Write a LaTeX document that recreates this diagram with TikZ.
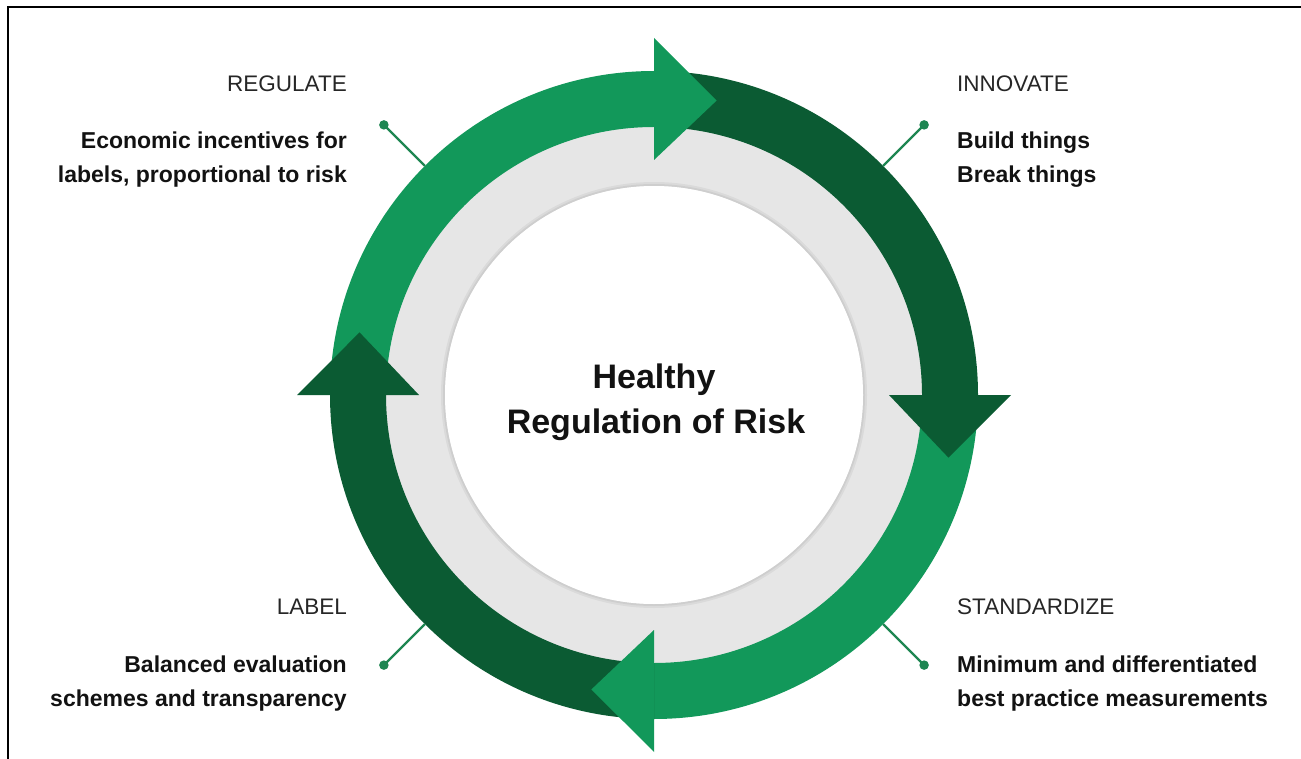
\documentclass[tikz,border=0pt]{standalone}
\usepackage{fontspec}
\setmainfont{Liberation Sans}
\definecolor{lightg}{HTML}{12985A}
\definecolor{darkg}{HTML}{0B5B33}
\definecolor{ringgrey}{HTML}{E6E6E6}
\definecolor{pointerg}{HTML}{1E8652}
\begin{document}
\begin{tikzpicture}[x=1pt,y=1pt,
  heading/.style={font=\fontsize{22.5}{26}\selectfont, text=black!85, inner sep=0},
  bodytext/.style={font=\fontsize{23}{28}\selectfont\bfseries, text=black!93, inner sep=0},
  titletext/.style={font=\fontsize{34}{40}\selectfont\bfseries, text=black!93, inner sep=0},
  dot/.style={circle, fill=pointerg, minimum size=9.5, inner sep=0},
  pointer/.style={draw=pointerg, line width=2.3},
  frame/.style={draw=black, line width=2}]
\useasboundingbox (0,0) rectangle (1301,-759);
% frame (left and top edges)
\coordinate (fTR) at (1301,-7);
\coordinate (fTL) at (8,-7);
\coordinate (fBL) at (8,-759);
\draw[frame] (fTR) -- (fTL) -- (fBL);
\begin{scope}[shift={(654,-395)}]
  % grey ring with a soft shadow at its inner edge
  \fill[ringgrey] (0,0) circle (282);
  \draw[black, opacity=0.05, line width=4] (0,0) circle (211);
  \draw[black, opacity=0.05, line width=2] (0,0) circle (210);
  \fill[white] (0,0) circle (209);
  % arrow bodies
  \fill[lightg] (180:324) arc[start angle=180,end angle=90,radius=324] -- (90:268) arc[start angle=90,end angle=180,radius=268] -- cycle;
  \fill[darkg] (90:324) arc[start angle=90,end angle=0,radius=324] -- (0:268) arc[start angle=0,end angle=90,radius=268] -- cycle;
  \fill[lightg] (0:324) arc[start angle=0,end angle=-90,radius=324] -- (-90:268) arc[start angle=-90,end angle=0,radius=268] -- cycle;
  \fill[darkg] (-90:324) arc[start angle=-90,end angle=-180,radius=324] -- (-180:268) arc[start angle=-180,end angle=-90,radius=268] -- cycle;
  % arrow heads
  \fill[lightg] (90:235) -- (90:357) -- (78:301) -- cycle;
  \fill[darkg] (0:235) -- (0:357) -- (-12:301) -- cycle;
  \fill[lightg] (-90:235) -- (-90:357) -- (-102:301) -- cycle;
  \fill[darkg] (180:235) -- (180:357) -- (168:301) -- cycle;
  % pointers
  \coordinate (pRegA) at (135:324);
  \node[dot] (pRegB) at (135:382) {};
  \draw[pointer] (pRegA) -- (pRegB.center);
  \coordinate (pInnA) at (45:324);
  \node[dot] (pInnB) at (45:382) {};
  \draw[pointer] (pInnA) -- (pInnB.center);
  \coordinate (pStdA) at (-45:324);
  \node[dot] (pStdB) at (-45:382) {};
  \draw[pointer] (pStdA) -- (pStdB.center);
  \coordinate (pLabA) at (-135:324);
  \node[dot] (pLabB) at (-135:382) {};
  \draw[pointer] (pLabA) -- (pLabB.center);
\end{scope}
% centre title
\node[titletext, anchor=base] (t1) at (654,-388) {Healthy};
\node[titletext, anchor=base] (t2) at (656,-433) {Regulation of Risk};
% REGULATE
\node[heading, anchor=base east] (regH) at (347,-92) {REGULATE};
\node[bodytext, anchor=base east] (reg1) at (347,-149) {Economic incentives for};
\node[bodytext, anchor=base east] (reg2) at (347,-183) {labels, proportional to risk};
% INNOVATE
\node[heading, anchor=base west] (innH) at (957,-92) {INNOVATE};
\node[bodytext, anchor=base west] (inn1) at (957,-149) {Build things};
\node[bodytext, anchor=base west] (inn2) at (957,-183) {Break things};
% LABEL
\node[heading, anchor=base east] (labH) at (347,-614) {LABEL};
\node[bodytext, anchor=base east] (lab1) at (347,-672) {Balanced evaluation};
\node[bodytext, anchor=base east] (lab2) at (347,-706) {schemes and transparency};
% STANDARDIZE
\node[heading, anchor=base west] (stdH) at (957,-614) {STANDARDIZE};
\node[bodytext, anchor=base west] (std1) at (957,-672) {Minimum and differentiated};
\node[bodytext, anchor=base west] (std2) at (957,-706) {best practice measurements};
\end{tikzpicture}
\end{document}
